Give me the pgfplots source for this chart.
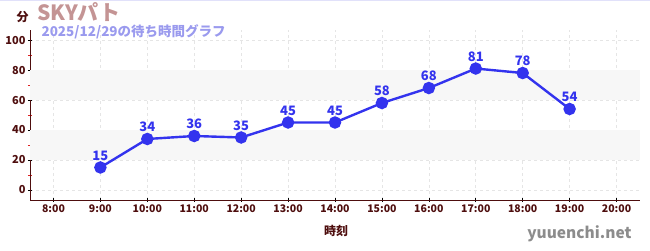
\documentclass[border=0pt]{standalone}
\usepackage{pgfplots}
\pgfplotsset{compat=1.18}
\usepackage{fontspec}
\setmainfont{Noto Sans CJK JP}
\definecolor{axred}{HTML}{4E0E0E}
\definecolor{tickred}{HTML}{DD2222}
\definecolor{lineblue}{HTML}{3333EE}
\definecolor{titlerose}{HTML}{C49494}
\definecolor{subblue}{HTML}{9A9AEE}
\definecolor{band}{HTML}{F7F7F7}
\pgfkeys{/pgf/number format/assume math mode=true}
\begin{document}
\begin{tikzpicture}
\useasboundingbox (0pt,0pt) rectangle (650pt,250pt);
\draw[color=subblue!30, line width=1pt] (0pt,249.5pt) -- (650pt,249.5pt);
\begin{axis}[
  at={(30pt,50pt)}, anchor=south west,
  scale only axis, width=610pt, height=170pt,
  xmin=7.5, xmax=20.5, ymin=-6.7, ymax=106.7,
  axis x line*=bottom, axis y line*=left,
  axis line style={axred, line width=0.8pt, -},
  xtick={8,...,20},
  xticklabels={8:00,9:00,10:00,11:00,12:00,13:00,14:00,15:00,16:00,17:00,18:00,19:00,20:00},
  ytick={0,20,...,100},
  minor ytick={10,30,...,90},
  tick style={black, line width=0.6pt},
  major tick length=4pt, minor tick length=4pt,
  minor tick style={tickred},
  tick align=center,
  xticklabel style={font=\bfseries\fontsize{10.5}{12}\selectfont, text=axred, yshift=1pt},
  yticklabel style={font=\bfseries\fontsize{11}{12}\selectfont, text=axred, xshift=1pt},
  grid=major,
  major grid style={dashed, gray!20, line width=0.6pt},
  clip=false,
]
\fill[band] (axis cs:7.5,20) rectangle (axis cs:20.5,40);
\fill[band] (axis cs:7.5,60) rectangle (axis cs:20.5,80);
\addplot[lineblue, line width=2.4pt, mark=*, mark size=5pt,
  nodes near coords, every node near coord/.append style={font=\bfseries\fontsize{13}{14}\selectfont, text=lineblue, yshift=2.5pt}]
coordinates {(9,15)(10,34)(11,36)(12,35)(13,45)(14,45)(15,58)(16,68)(17,81)(18,78)(19,54)};
\end{axis}
\node[anchor=base west, font=\bfseries\fontsize{21}{23}\selectfont, text=titlerose] at (34pt,230pt) {SKYパト};
\node[anchor=base west, font=\bfseries\fontsize{12}{13}\selectfont, text=axred] at (13pt,229pt) {分};
\node[anchor=base west, font=\bfseries\fontsize{13.5}{15}\selectfont, text=subblue] at (38pt,214pt) {2025/12/29の待ち時間グラフ};
\node[font=\bfseries\fontsize{12}{13}\selectfont, text=axred] at (336pt,19pt) {時刻};
\node[anchor=base east, font=\bfseries\fontsize{15.5}{17}\selectfont, text=gray!90] at (635pt,12pt) {yuuenchi.net};
\end{tikzpicture}
\end{document}
